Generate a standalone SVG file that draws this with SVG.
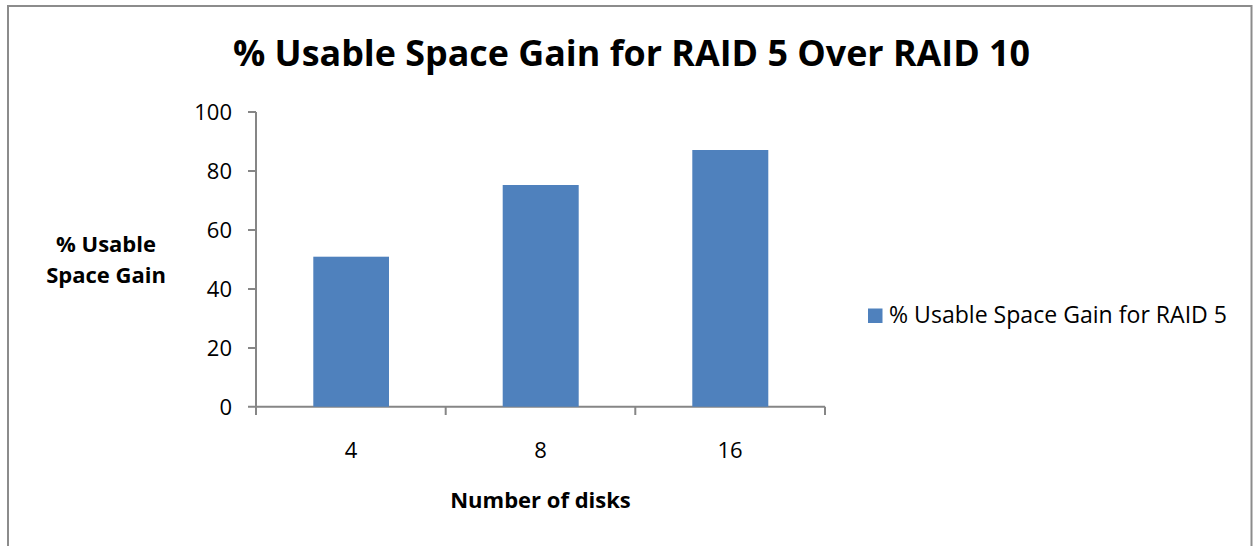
<svg xmlns="http://www.w3.org/2000/svg" width="1255" height="546" viewBox="0 0 1255 546">
<style>
.t{font-family:"Open Sans","Liberation Sans",sans-serif;fill:#000}
.b{font-weight:bold}
.ax{stroke:#868686;stroke-width:2;fill:none}
.bar{fill:#4F81BD}
</style>
<rect x="0" y="0" width="1255" height="546" fill="#fff"/>
<path d="M8,546 V6 H1251.5 V546" fill="none" stroke="#8c8c8c" stroke-width="2"/>
<g id="title"><text class="t b" x="631.5" y="66" font-size="36" text-anchor="middle" textLength="797" lengthAdjust="spacingAndGlyphs">% Usable Space Gain for RAID 5 Over RAID 10</text></g>
<g id="axes">
<path class="ax" d="M256,112 V415 M248,112 H256 M248,171 H256 M248,230 H256 M248,289 H256 M248,348 H256 M248,406.7 H825 M445.7,406.7 V415 M635.3,406.7 V415 M825,406.7 V415"/>
<g class="t" font-size="22" text-anchor="end">
<text x="232" y="120">100</text>
<text x="232" y="179">80</text>
<text x="232" y="238">60</text>
<text x="232" y="297">40</text>
<text x="232" y="356">20</text>
<text x="232" y="415">0</text>
</g>
<g class="t" font-size="22" text-anchor="middle">
<text x="351" y="458">4</text>
<text x="540.5" y="458">8</text>
<text x="730" y="458">16</text>
</g>
</g>
<g id="bars">
<rect class="bar" x="313.3" y="256.7" width="75.7" height="150"/>
<rect class="bar" x="502.7" y="185" width="76" height="221.7"/>
<rect class="bar" x="692.3" y="150" width="76" height="256.7"/>
</g>
<g id="yaxis-title" class="t b" font-size="22" text-anchor="middle">
<text x="106" y="251.5">% Usable</text>
<text x="106" y="283">Space Gain</text>
</g>
<g id="xaxis-title"><text class="t b" x="540.5" y="508" font-size="22" text-anchor="middle">Number of disks</text></g>
<g id="legend">
<rect class="bar" x="868" y="308.5" width="14.5" height="14.5"/>
<text class="t" x="889" y="323" font-size="23" textLength="338" lengthAdjust="spacingAndGlyphs">% Usable Space Gain for RAID 5</text>
</g>
</svg>
